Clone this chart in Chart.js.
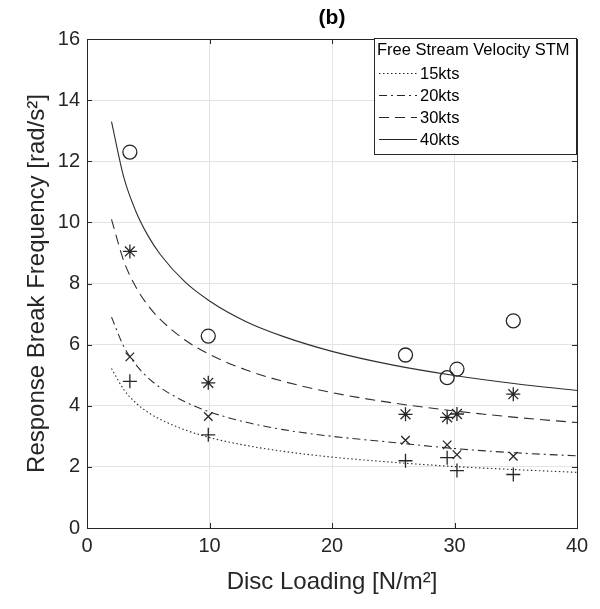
<!DOCTYPE html>
<html>
<head>
<meta charset="utf-8">
<script src="https://cdn.jsdelivr.net/npm/chart.js@4"></script>
<style>
  body { margin: 0; background: #fff; }
  #wrap { width: 600px; height: 609px; }
</style>
</head>
<body>
<div id="wrap"><canvas id="disc-chart" width="600" height="609"></canvas></div>
<script>
// fitted curves (x = disc loading, y = break frequency)
const curveX = [2, 3, 4, 5, 6, 8, 10, 13, 16, 20, 25, 30, 35, 40];
const curve15 = [5.22, 4.53, 4.09, 3.78, 3.55, 3.21, 2.96, 2.70, 2.51, 2.32, 2.15, 2.01, 1.91, 1.82];
const curve20 = [6.90, 5.94, 5.34, 4.91, 4.59, 4.13, 3.80, 3.46, 3.22, 3.00, 2.80, 2.60, 2.46, 2.36];
const curve30 = [10.1, 8.74, 7.88, 7.27, 6.82, 6.15, 5.68, 5.17, 4.80, 4.43, 4.09, 3.83, 3.62, 3.45];
const curve40 = [13.3, 11.48, 10.35, 9.55, 8.94, 8.05, 7.43, 6.75, 6.27, 5.78, 5.33, 4.99, 4.72, 4.50];

// measured points
const pointX = [3.5, 9.9, 26.0, 29.4, 30.2, 34.8];
const meas15 = [4.80, 3.05, 2.20, 2.30, 1.88, 1.75];
const meas20 = [5.60, 3.65, 2.87, 2.72, 2.40, 2.35];
const meas30 = [9.05, 4.75, 3.72, 3.62, 3.73, 4.38];
const meas40 = [12.3, 6.28, 5.66, 4.92, 5.20, 6.78];

const xTicks = [0, 10, 20, 30, 40];
const yTicks = [0, 2, 4, 6, 8, 10, 12, 14, 16];

const ink = "#262626";
const font = "'Liberation Sans', Arial, sans-serif";

const toXY = (xs, ys) => xs.map((x, i) => ({ x: x, y: ys[i] }));

function curve(label, ys, dash) {
  return {
    type: "line",
    legendLabel: label,
    data: toXY(curveX, ys),
    borderColor: "#2e2e2e",
    borderWidth: 1.1,
    borderDash: dash,
    pointRadius: 0,
    cubicInterpolationMode: "monotone",
    fill: false,
  };
}

function marks(ys, style, r) {
  return {
    type: "scatter",
    data: toXY(pointX, ys),
    pointStyle: style,
    pointRadius: r,
    borderColor: ink,
    backgroundColor: "rgba(0,0,0,0)",
    borderWidth: 1.3,
  };
}

// MATLAB-like box, inward ticks, title and legend
const boxPlugin = {
  id: "box",
  afterDraw(chart) {
    const ctx = chart.ctx;
    const a = chart.chartArea;
    const xs = chart.scales.x;
    const ys = chart.scales.y;
    ctx.save();
    ctx.strokeStyle = ink;
    ctx.lineWidth = 1;
    ctx.beginPath();
    xTicks.forEach((t) => {
      const px = Math.round(xs.getPixelForValue(t)) + 0.5;
      ctx.moveTo(px, a.bottom); ctx.lineTo(px, a.bottom - 5);
      ctx.moveTo(px, a.top); ctx.lineTo(px, a.top + 5);
    });
    yTicks.forEach((t) => {
      const py = Math.round(ys.getPixelForValue(t)) + 0.5;
      ctx.moveTo(a.left, py); ctx.lineTo(a.left + 5, py);
      ctx.moveTo(a.right, py); ctx.lineTo(a.right - 5, py);
    });
    ctx.stroke();
    ctx.strokeRect(Math.round(a.left) + 0.5, Math.round(a.top) + 0.5,
      Math.round(a.right - a.left), Math.round(a.bottom - a.top));

    // title
    ctx.fillStyle = "#000";
    ctx.font = "bold 21px " + font;
    ctx.textAlign = "center";
    ctx.textBaseline = "middle";
    ctx.fillText("(b)", (a.left + a.right) / 2, 18);

    // legend
    const lx = 374, ly = 38, lw = 202, lh = 116;
    ctx.fillStyle = "#fff";
    ctx.fillRect(lx, ly, lw, lh);
    ctx.strokeStyle = ink;
    ctx.strokeRect(lx + 0.5, ly + 0.5, lw, lh);
    ctx.fillStyle = "#000";
    ctx.textAlign = "left";
    ctx.font = "16.5px " + font;
    ctx.fillText("Free Stream Velocity STM", lx + 3, 50);
    let row = 0;
    chart.data.datasets.forEach((ds) => {
      if (!ds.legendLabel) return;
      const y = 73 + row * 22;
      ctx.strokeStyle = ink;
      ctx.lineWidth = 1.1;
      ctx.setLineDash(ds.borderDash || []);
      ctx.beginPath();
      ctx.moveTo(lx + 5, y + 0.5);
      ctx.lineTo(lx + 43, y + 0.5);
      ctx.stroke();
      ctx.setLineDash([]);
      ctx.fillText(ds.legendLabel, lx + 46, y + 1);
      row++;
    });
    ctx.restore();
  },
};

const discCtx = document.getElementById("disc-chart").getContext("2d");
new Chart(discCtx, {
  data: {
    datasets: [
      curve("15kts", curve15, [1.5, 2.5]),
      curve("20kts", curve20, [8, 4, 2, 4]),
      curve("30kts", curve30, [10, 6]),
      curve("40kts", curve40, []),
      marks(meas15, "cross", 7),
      marks(meas20, "crossRot", 6),
      marks(meas30, "star", 7),
      marks(meas40, "circle", 7),
    ],
  },
  options: {
    responsive: false,
    animation: false,
    layout: { padding: { top: 39, right: 23, left: 0, bottom: 0 } },
    plugins: {
      legend: { display: false },
      tooltip: { enabled: false },
    },
    scales: {
      x: {
        type: "linear",
        min: 0,
        max: 40,
        afterFit: (s) => { s.height = 81; },
        afterBuildTicks: (s) => { s.ticks = xTicks.map((v) => ({ value: v })); },
        grid: { color: "#e3e3e3", drawTicks: false },
        border: { display: false },
        ticks: { color: ink, font: { family: font, size: 20 }, padding: 6 },
        title: {
          display: true,
          text: "Disc Loading [N/m²]",
          color: ink,
          font: { family: font, size: 24 },
          padding: { top: 0, bottom: 12 },
        },
      },
      y: {
        type: "linear",
        min: 0,
        max: 16,
        afterFit: (s) => { s.width = 87; },
        afterBuildTicks: (s) => { s.ticks = yTicks.map((v) => ({ value: v })); },
        grid: { color: "#e3e3e3", drawTicks: false },
        border: { display: false },
        ticks: { color: ink, font: { family: font, size: 20 }, padding: 7 },
        title: {
          display: true,
          text: "Response Break Frequency [rad/s²]",
          color: ink,
          font: { family: font, size: 24 },
          padding: { top: 23, bottom: 0 },
        },
      },
    },
  },
  plugins: [boxPlugin],
});
</script>
</body>
</html>
